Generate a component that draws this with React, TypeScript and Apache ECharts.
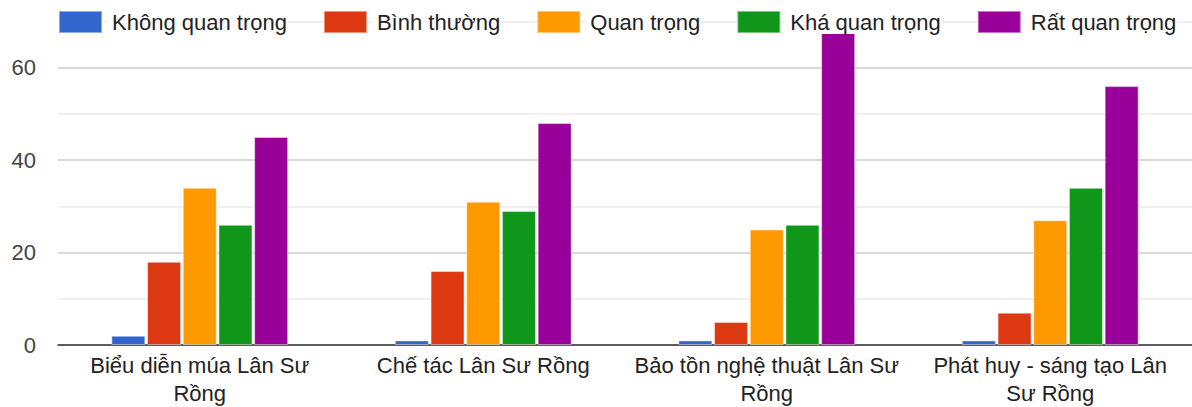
import React, { useEffect, useRef } from 'react';
import * as echarts from 'echarts';

// Survey categories (x axis), with the line breaks used for the tick labels
const categories = [
  'Biểu diễn múa Lân Sư\nRồng',
  'Chế tác Lân Sư Rồng',
  'Bảo tồn nghệ thuật Lân Sư\nRồng',
  'Phát huy - sáng tạo Lân\nSư Rồng',
];

// Response levels, one series each
const seriesNames = ['Không quan trọng', 'Bình thường', 'Quan trọng', 'Khá quan trọng', 'Rất quan trọng'];
const khongQuanTrong = [2, 1, 1, 1];
const binhThuong = [18, 16, 5, 7];
const quanTrong = [34, 31, 25, 27];
const khaQuanTrong = [26, 29, 26, 34];
const ratQuanTrong = [45, 48, 68, 56];

const seriesColors = ['#3366cc', '#dc3912', '#ff9900', '#109618', '#990099'];
const yTickLabels = [0, 20, 40, 60];

const FONT = '"Liberation Sans", Arial, sans-serif';

export default function App() {
  const ref = useRef<HTMLDivElement>(null);

  useEffect(() => {
    if (!ref.current) return;
    const chart = echarts.init(ref.current, undefined, { renderer: 'svg' });
    const values = [khongQuanTrong, binhThuong, quanTrong, khaQuanTrong, ratQuanTrong];

    chart.setOption({
      animation: false,
      color: seriesColors,
      textStyle: { fontFamily: FONT },
      legend: {
        top: 10,
        left: 58,
        padding: 0,
        itemWidth: 43,
        itemHeight: 22,
        itemGap: 36,
        icon: 'rect',
        data: seriesNames,
        textStyle: {
          fontFamily: FONT,
          fontSize: 22,
          lineHeight: 24,
          color: '#222',
          backgroundColor: '#fff',
          padding: [0, 0, 0, 5],
        },
        z: 10,
      },
      grid: {
        left: 58,
        top: 21.4,
        width: 1147,
        height: 324.3,
        containLabel: false,
      },
      xAxis: {
        type: 'category',
        data: categories,
        axisTick: { show: false },
        axisLine: { show: true, lineStyle: { color: '#333', width: 1.5 } },
        axisLabel: {
          interval: 0,
          fontFamily: FONT,
          fontSize: 22,
          color: '#222',
          margin: 6,
          lineHeight: 28,
        },
      },
      yAxis: {
        type: 'value',
        min: 0,
        max: 70,
        interval: 10,
        axisLine: { show: false },
        axisTick: { show: false },
        axisLabel: {
          fontFamily: FONT,
          fontSize: 22,
          color: '#444',
          margin: 22,
          formatter: (v: number) => (yTickLabels.includes(v) ? String(v) : ''),
        },
        splitLine: {
          lineStyle: { color: ['#cccccc', '#ebebeb'], width: 1.5 },
        },
      },
      series: seriesNames.map((name, i) => ({
        name,
        type: 'bar',
        data: values[i],
        barWidth: 34,
        barGap: '5%',
        itemStyle: {
          borderColor: 'rgba(255,255,255,0.45)',
          borderWidth: 1,
        },
      })),
    });

    return () => chart.dispose();
  }, []);

  return (
    <div
      ref={ref}
      style={{ position: 'fixed', left: 0, top: 0, width: 1192, height: 407, background: '#fff' }}
    />
  );
}
